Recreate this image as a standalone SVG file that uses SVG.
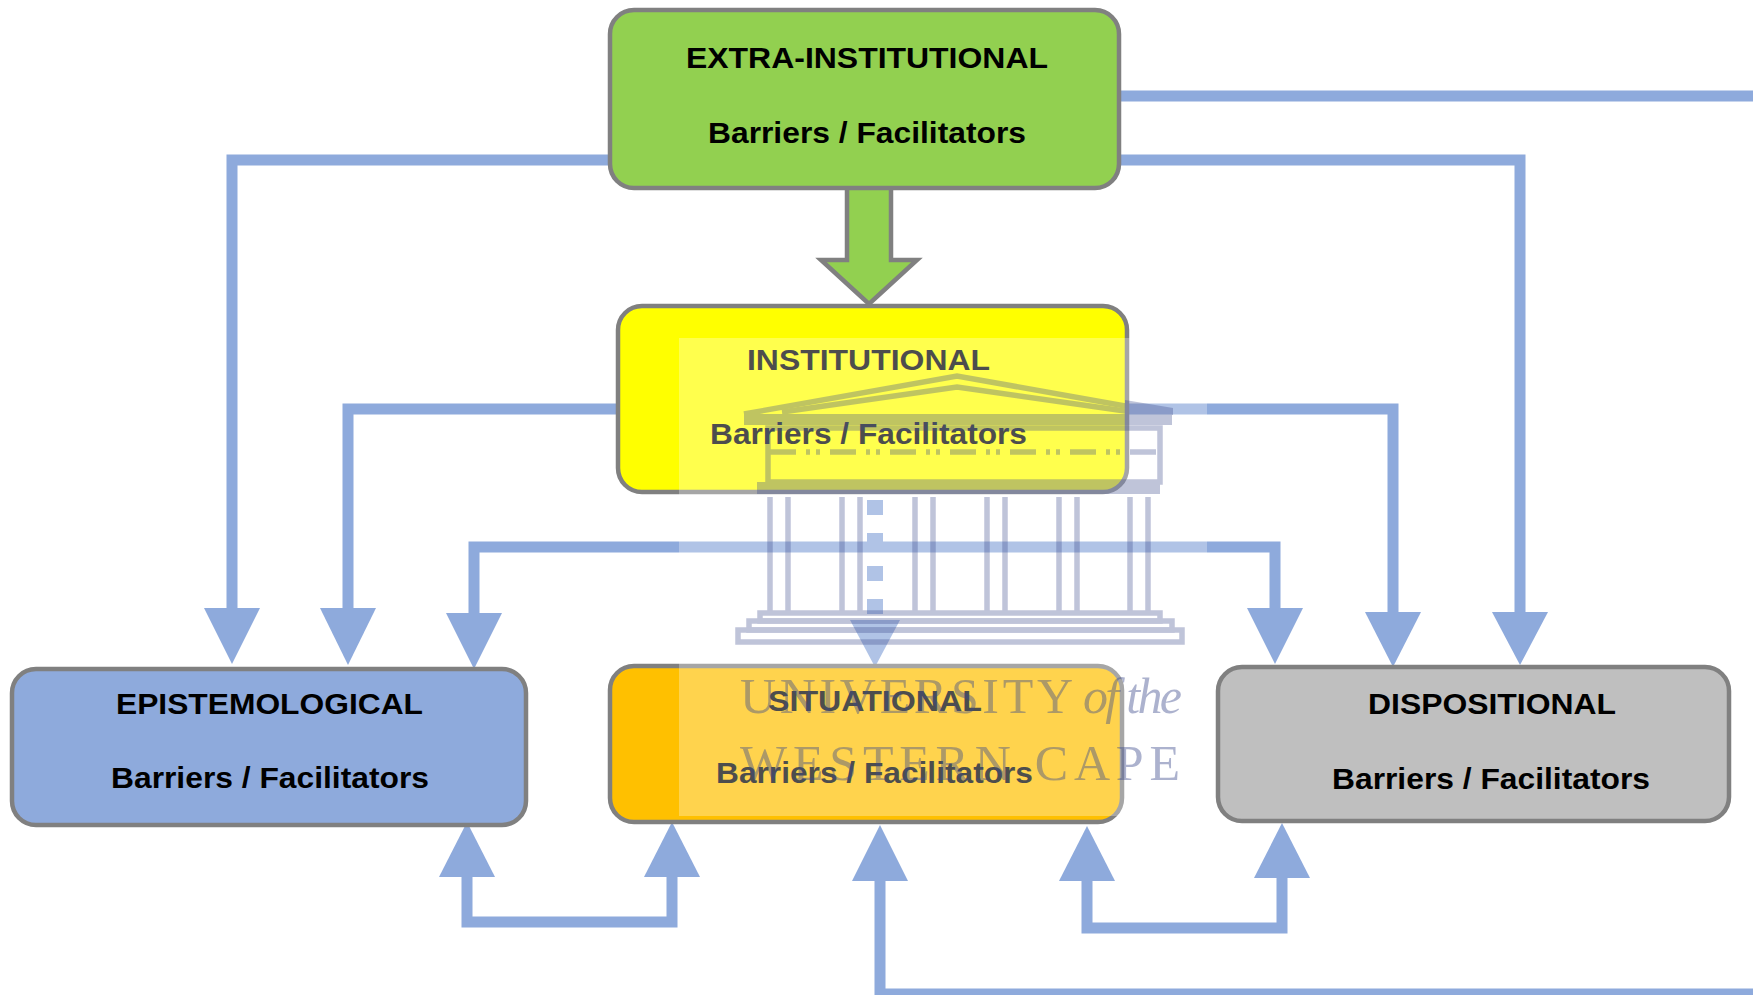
<svg xmlns="http://www.w3.org/2000/svg" width="1753" height="995" viewBox="0 0 1753 995">
<defs>
<style>
.box{stroke:#808080;stroke-width:4.5}
.lbl{font-family:"Liberation Sans",Arial,sans-serif;font-weight:bold;font-size:29px;fill:#000}
.con{fill:none;stroke:#8EAADC;stroke-width:11}
.head{fill:#8EAADC}
.wm{fill:none;stroke:#3C4A8C;stroke-width:5.5}
.wmt{font-family:"Liberation Serif","Times New Roman",serif;font-size:50px;fill:#3C4A8C}
</style>
</defs>
<rect width="1753" height="995" fill="#FFFFFF"/>
<g id="connectors">
  <path class="con" d="M612 160 H232 V610"/>
  <polygon class="head" points="204,608 260,608 232,664"/>
  <path class="con" d="M620 409 H348 V610"/>
  <polygon class="head" points="320,608 376,608 348,665"/>
  <path class="con" d="M474 614 V547 H1275 V610"/>
  <polygon class="head" points="446,613 502,613 474,669"/>
  <polygon class="head" points="1247,608 1303,608 1275,664"/>
  <path class="con" d="M1125 409 H1393 V614"/>
  <polygon class="head" points="1365,612 1421,612 1393,667"/>
  <path class="con" d="M1117 160 H1520 V614"/>
  <polygon class="head" points="1492,612 1548,612 1520,665"/>
  <path class="con" d="M1117 96 H1753"/>
  <path d="M875 500 V616" fill="none" stroke="#8EAADC" stroke-width="16" stroke-dasharray="15 18"/>
  <polygon class="head" points="850,620 900,620 875,667"/>
  <path class="con" d="M1753 994 H880 V879"/>
  <polygon class="head" points="852,881 908,881 880,825"/>
  <path class="con" d="M467 875 V922 H672 V875"/>
  <polygon class="head" points="439,877 495,877 467,822"/>
  <polygon class="head" points="644,877 700,877 672,822"/>
  <path class="con" d="M1087 879 V928 H1282 V876"/>
  <polygon class="head" points="1059,881 1115,881 1087,826"/>
  <polygon class="head" points="1254,878 1310,878 1282,823"/>
</g>
<g id="extra-arrow">
  <polygon points="847,186 891,186 891,260 917,260 869,304 821,260 847,260" fill="#92D050" stroke="#808080" stroke-width="4.5" stroke-linejoin="miter"/>
</g>
<g id="extra-institutional">
  <rect class="box" x="610" y="10" width="509" height="178" rx="24" fill="#92D050"/>
  <text class="lbl" x="686" y="68" textLength="362" lengthAdjust="spacingAndGlyphs">EXTRA-INSTITUTIONAL</text>
  <text class="lbl" x="708" y="143" textLength="318" lengthAdjust="spacingAndGlyphs">Barriers / Facilitators</text>
</g>
<g id="institutional">
  <rect class="box" x="618" y="306" width="509" height="186" rx="24" fill="#FFFF00"/>
  <text class="lbl" x="747" y="370" textLength="243" lengthAdjust="spacingAndGlyphs">INSTITUTIONAL</text>
  <text class="lbl" x="710" y="444" textLength="317" lengthAdjust="spacingAndGlyphs">Barriers / Facilitators</text>
</g>
<g id="epistemological">
  <rect class="box" x="12" y="669" width="514" height="156" rx="24" fill="#8EAADC"/>
  <text class="lbl" x="116" y="714" textLength="307" lengthAdjust="spacingAndGlyphs">EPISTEMOLOGICAL</text>
  <text class="lbl" x="111" y="788" textLength="318" lengthAdjust="spacingAndGlyphs">Barriers / Facilitators</text>
</g>
<g id="situational">
  <rect class="box" x="610" y="666" width="512" height="156" rx="24" fill="#FFC000"/>
  <text class="lbl" x="768" y="711" textLength="214" lengthAdjust="spacingAndGlyphs">SITUATIONAL</text>
  <text class="lbl" x="716" y="783" textLength="317" lengthAdjust="spacingAndGlyphs">Barriers / Facilitators</text>
</g>
<g id="dispositional">
  <rect class="box" x="1218" y="667" width="511" height="154" rx="24" fill="#BFBFBF"/>
  <text class="lbl" x="1368" y="714" textLength="248" lengthAdjust="spacingAndGlyphs">DISPOSITIONAL</text>
  <text class="lbl" x="1332" y="789" textLength="318" lengthAdjust="spacingAndGlyphs">Barriers / Facilitators</text>
</g>
<g id="watermark">
  <rect x="679" y="338" width="528" height="478" fill="#FFFFFF" opacity="0.3"/>
  <g opacity="0.32">
    <polyline class="wm" points="744,414 957,376 1170,414"/>
    <polyline class="wm" points="782,412 957,387 1132,412"/>
    <rect x="744" y="414" width="428" height="11" fill="#3C4A8C"/>
    <polygon points="1125,400 1173,408 1173,415 1125,415" fill="#3C4A8C"/>
    <rect class="wm" x="768" y="428" width="392" height="54"/>
    <line class="wm" x1="770" y1="452" x2="1158" y2="452" stroke-width="14" stroke-dasharray="26 10 4 6 4 10"/>
    <rect x="757" y="482" width="403" height="12" fill="#3C4A8C"/>
    <g class="wm">
      <line x1="770" y1="497" x2="770" y2="613"/><line x1="788" y1="497" x2="788" y2="613"/>
      <line x1="842" y1="497" x2="842" y2="613"/><line x1="860" y1="497" x2="860" y2="613"/>
      <line x1="915" y1="497" x2="915" y2="613"/><line x1="933" y1="497" x2="933" y2="613"/>
      <line x1="987" y1="497" x2="987" y2="613"/><line x1="1005" y1="497" x2="1005" y2="613"/>
      <line x1="1059" y1="497" x2="1059" y2="613"/><line x1="1077" y1="497" x2="1077" y2="613"/>
      <line x1="1130" y1="497" x2="1130" y2="613"/><line x1="1148" y1="497" x2="1148" y2="613"/>
    </g>
    <rect class="wm" x="760" y="613" width="400" height="8"/>
    <rect class="wm" x="749" y="621" width="423" height="9"/>
    <rect class="wm" x="738" y="630" width="444" height="12"/>
  </g>
  <g opacity="0.42">
    <text class="wmt" x="740" y="713" textLength="333" lengthAdjust="spacing">UNIVERSITY</text>
    <text class="wmt" x="1083" y="713" textLength="99" lengthAdjust="spacing" font-style="italic">of the</text>
    <text class="wmt" x="740" y="780" textLength="440" lengthAdjust="spacing">WESTERN CAPE</text>
  </g>
</g>
</svg>
